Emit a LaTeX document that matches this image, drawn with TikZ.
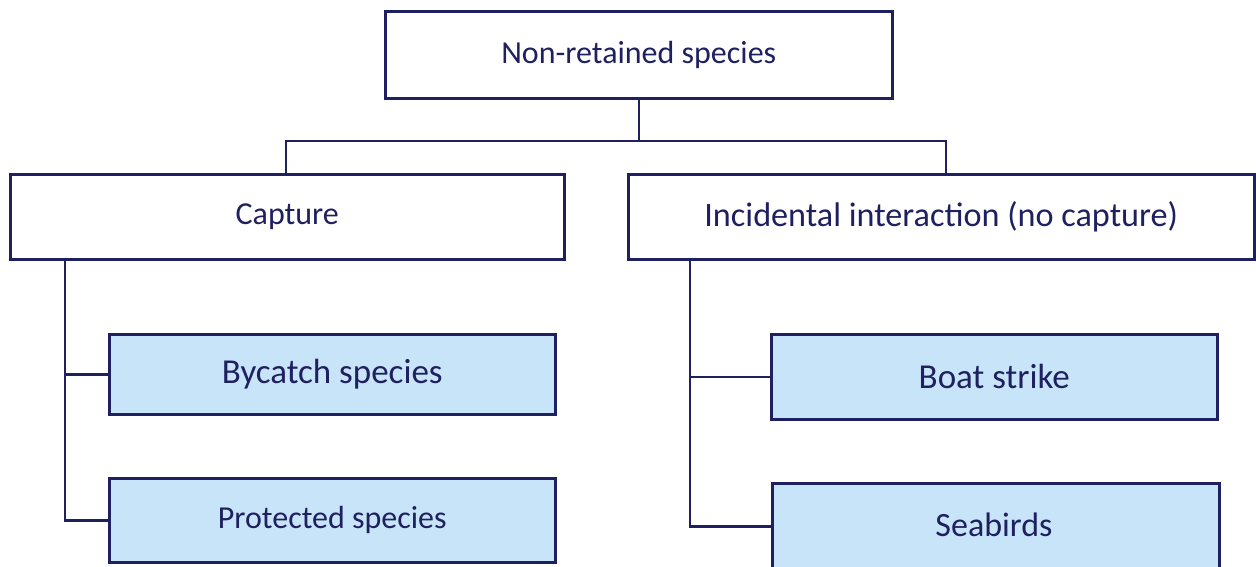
\documentclass[tikz,border=0pt]{standalone}
\usepackage{fontspec}
\setmainfont{Carlito}
\definecolor{navy}{HTML}{1F2060}
\definecolor{lightblue}{HTML}{C8E4F8}
\tikzset{
  box/.style={draw=navy, line width=2.5pt, rectangle, inner sep=0pt, text=navy, anchor=north west},
  leaf/.style={box, fill=lightblue},
  conn/.style={draw=navy, line width=2.5pt},
  midfont/.style={font=\fontsize{32}{38}\selectfont},
  bigfont/.style={font=\fontsize{35}{42}\selectfont}
}
\begin{document}
\begin{tikzpicture}[x=1pt,y=-1pt]
\useasboundingbox (0,0) rectangle (1256,566);
\clip (0,0) rectangle (1256,566);
\node[box, midfont, minimum width=507pt, minimum height=87pt] (top) at (384,10) {Non-retained species};
\node[box, midfont, minimum width=554pt, minimum height=85pt] (cap) at (9,173) {Capture};
\node[box, font=\fontsize{34.2}{40}\selectfont, minimum width=626pt, minimum height=85pt] (inc) at (627,173) {Incidental interaction (no capture)};
\node[leaf, bigfont, minimum width=446pt, minimum height=80pt] (byc) at (108,333) {Bycatch species};
\node[leaf, midfont, minimum width=446pt, minimum height=84pt] (pro) at (108,477) {Protected species};
\node[leaf, bigfont, minimum width=446pt, minimum height=85pt] (boat) at (770,333) {Boat strike};
\node[leaf, minimum width=447pt, minimum height=86pt] (sea) at (771,482) {};
\node[text=navy, font=\fontsize{34}{40}\selectfont] (sealabel) at (994,525) {Seabirds};
\coordinate (jt) at (top.south |- 0,141);
\draw[conn] (top.south) -- (jt);
\draw[conn] (jt) -| (286,173);
\draw[conn] (jt) -| (946,173);
\coordinate (cv) at (65,258);
\coordinate (iv) at (690,258);
\draw[conn] (cv) |- (pro.west);
\draw[conn] (cv |- byc.west) -- (byc.west);
\draw[conn] (iv) |- (sea.west);
\draw[conn] (iv |- boat.west) -- (boat.west);
\end{tikzpicture}
\end{document}
